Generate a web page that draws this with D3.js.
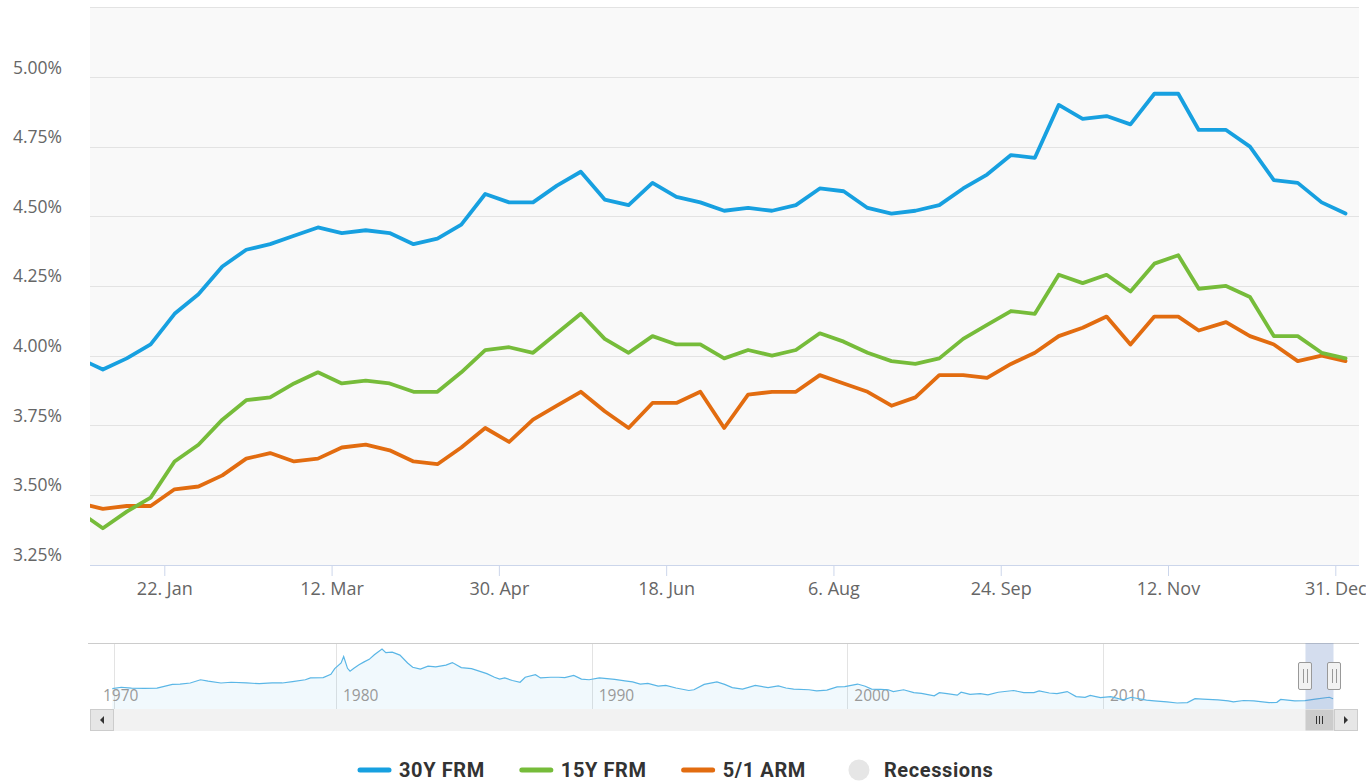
<!DOCTYPE html>
<html lang="en">
<head>
<meta charset="UTF-8">
<title>Mortgage Rates 2018</title>
<style>
    body { margin: 0; background: #ffffff; }
    svg text { font-family: "Open Sans", sans-serif; }
</style>
</head>
<body>
<div id="chart"></div>
<script src="https://cdn.jsdelivr.net/npm/d3@7"></script>
<script>
// weekly survey dates (first one sits just left of the visible range)
const weekDates = ["2017-12-28", "2018-01-04", "2018-01-11", "2018-01-18", "2018-01-25", "2018-02-01",
    "2018-02-08", "2018-02-15", "2018-02-22", "2018-03-01", "2018-03-08", "2018-03-15", "2018-03-22",
    "2018-03-29", "2018-04-05", "2018-04-12", "2018-04-19", "2018-04-26", "2018-05-03", "2018-05-10",
    "2018-05-17", "2018-05-24", "2018-05-31", "2018-06-07", "2018-06-14", "2018-06-21", "2018-06-28",
    "2018-07-05", "2018-07-12", "2018-07-19", "2018-07-26", "2018-08-02", "2018-08-09", "2018-08-16",
    "2018-08-23", "2018-08-30", "2018-09-06", "2018-09-13", "2018-09-20", "2018-09-27", "2018-10-04",
    "2018-10-11", "2018-10-18", "2018-10-25", "2018-11-01", "2018-11-08", "2018-11-15", "2018-11-21",
    "2018-11-29", "2018-12-06", "2018-12-13", "2018-12-20", "2018-12-27", "2019-01-03"];

const frm30 = [3.99, 3.95, 3.99, 4.04, 4.15, 4.22, 4.32, 4.38, 4.40, 4.43, 4.46, 4.44, 4.45, 4.44, 4.40,
    4.42, 4.47, 4.58, 4.55, 4.55, 4.61, 4.66, 4.56, 4.54, 4.62, 4.57, 4.55, 4.52, 4.53, 4.52, 4.54, 4.60,
    4.59, 4.53, 4.51, 4.52, 4.54, 4.60, 4.65, 4.72, 4.71, 4.90, 4.85, 4.86, 4.83, 4.94, 4.94, 4.81, 4.81,
    4.75, 4.63, 4.62, 4.55, 4.51];

const frm15 = [3.44, 3.38, 3.44, 3.49, 3.62, 3.68, 3.77, 3.84, 3.85, 3.90, 3.94, 3.90, 3.91, 3.90, 3.87,
    3.87, 3.94, 4.02, 4.03, 4.01, 4.08, 4.15, 4.06, 4.01, 4.07, 4.04, 4.04, 3.99, 4.02, 4.00, 4.02, 4.08,
    4.05, 4.01, 3.98, 3.97, 3.99, 4.06, 4.11, 4.16, 4.15, 4.29, 4.26, 4.29, 4.23, 4.33, 4.36, 4.24, 4.25,
    4.21, 4.07, 4.07, 4.01, 3.99];

const arm51 = [3.47, 3.45, 3.46, 3.46, 3.52, 3.53, 3.57, 3.63, 3.65, 3.62, 3.63, 3.67, 3.68, 3.66, 3.62,
    3.61, 3.67, 3.74, 3.69, 3.77, 3.82, 3.87, 3.80, 3.74, 3.83, 3.83, 3.87, 3.74, 3.86, 3.87, 3.87, 3.93,
    3.90, 3.87, 3.82, 3.85, 3.93, 3.93, 3.92, 3.97, 4.01, 4.07, 4.10, 4.14, 4.04, 4.14, 4.14, 4.09, 4.12,
    4.07, 4.04, 3.98, 4.00, 3.98];

const seriesNames = ["30Y FRM", "15Y FRM", "5/1 ARM"];
const seriesColors = ["#17a0e0", "#76bc3a", "#e26c10"];

const yTickValues = [3.25, 3.50, 3.75, 4.00, 4.25, 4.50, 4.75, 5.00];
const xTickDates = ["2018-01-22", "2018-03-12", "2018-04-30", "2018-06-18", "2018-08-06",
    "2018-09-24", "2018-11-12", "2018-12-31"];

// navigator: 30Y FRM history (decimal year, rate)
const navYears = [1971.25, 1971.6, 1972.0, 1972.5, 1973.0, 1973.6, 1973.9, 1974.3, 1974.7, 1975.0,
    1975.5, 1975.9, 1976.5, 1977.0, 1977.5, 1977.9, 1978.3, 1978.8, 1979.0, 1979.5, 1979.8, 1979.95,
    1980.2, 1980.3, 1980.45, 1980.55, 1980.7, 1980.9, 1981.1, 1981.3, 1981.5, 1981.8, 1981.95, 1982.2,
    1982.5, 1982.8, 1983.0, 1983.3, 1983.6, 1983.9, 1984.3, 1984.55, 1984.9, 1985.3, 1985.6, 1985.9,
    1986.2, 1986.4, 1986.6, 1986.9, 1987.2, 1987.4, 1987.8, 1988.0, 1988.4, 1988.7, 1988.95, 1989.3,
    1989.6, 1989.9, 1990.3, 1990.6, 1990.9, 1991.3, 1991.6, 1991.9, 1992.2, 1992.6, 1992.9, 1993.3,
    1993.8, 1994.0, 1994.4, 1994.9, 1995.2, 1995.5, 1995.9, 1996.4, 1996.9, 1997.3, 1997.6, 1997.9,
    1998.5, 1998.8, 1999.2, 1999.6, 1999.9, 2000.4, 2000.7, 2000.95, 2001.3, 2001.6, 2001.8, 2002.2,
    2002.6, 2002.9, 2003.4, 2003.6, 2003.9, 2004.3, 2004.45, 2004.8, 2005.2, 2005.5, 2005.9, 2006.5,
    2006.9, 2007.3, 2007.5, 2007.9, 2008.2, 2008.6, 2008.95, 2009.3, 2009.5, 2009.9, 2010.3, 2010.8,
    2011.1, 2011.7, 2012.0, 2012.5, 2012.9, 2013.3, 2013.6, 2013.9, 2014.5, 2014.9, 2015.1, 2015.5,
    2015.9, 2016.5, 2016.8, 2016.95, 2017.5, 2017.9, 2018.3, 2018.85, 2019.0];
const navRates = [7.33, 7.7, 7.45, 7.40, 7.45, 8.5, 8.6, 8.9, 9.8, 9.4,
    8.9, 9.1, 8.9, 8.7, 8.9, 8.9, 9.3, 9.8, 10.3, 10.4, 11.3, 12.9,
    14.5, 16.3, 13.0, 12.2, 13.0, 14.0, 14.8, 15.5, 16.8, 18.4, 17.4, 17.5,
    16.7, 14.5, 13.3, 12.8, 13.6, 13.4, 13.9, 14.6, 13.2, 12.9, 12.2, 11.5,
    10.5, 10.0, 10.3, 9.6, 9.1, 10.5, 11.2, 10.3, 10.5, 10.5, 10.4, 11.0,
    10.0, 9.8, 10.3, 10.1, 9.9, 9.5, 9.2, 8.6, 8.8, 8.0, 8.2, 7.5,
    6.8, 7.0, 8.5, 9.2, 8.5, 7.6, 7.2, 8.2, 7.6, 8.1, 7.5, 7.2,
    7.0, 6.7, 6.9, 7.8, 7.9, 8.6, 8.0, 7.2, 7.1, 7.0, 6.5, 7.0,
    6.2, 6.0, 5.3, 6.2, 5.9, 5.5, 6.3, 5.7, 5.9, 5.6, 6.3, 6.8,
    6.2, 6.2, 6.7, 6.1, 5.9, 6.5, 5.1, 4.9, 5.4, 4.8, 5.1, 4.2,
    4.9, 4.1, 3.9, 3.6, 3.3, 3.4, 4.5, 4.4, 4.2, 3.9, 3.6, 4.0,
    3.9, 3.4, 3.5, 4.3, 3.9, 3.95, 4.4, 4.9, 4.5];
const navTickYears = [1970, 1980, 1990, 2000, 2010];

const legendItems = ["30Y FRM", "15Y FRM", "5/1 ARM", "Recessions"];

const width = 1366, height = 781;
const plot = { left: 90, right: 1359, top: 7, bottom: 565 };
const nav = { top: 643, bottom: 709, scrollBottom: 731 };

const svg = d3.select("#chart").append("svg")
    .attr("width", width)
    .attr("height", height);

const parse = d3.utcParse("%Y-%m-%d");

var x = d3.scaleUtc()
    .domain([parse("2018-01-22"), parse("2018-12-31")])
    .range([164.3, 1335.3]);

var y = d3.scaleLinear()
    .domain([3.25, 5.25])
    .range([564.5, 7.4]);

// plot background
svg.append("rect")
    .attr("x", plot.left).attr("y", plot.top)
    .attr("width", plot.right - plot.left).attr("height", plot.bottom - plot.top)
    .attr("fill", "#f9f9f9");

svg.append("clipPath").attr("id", "plotclip")
    .append("rect")
    .attr("x", plot.left).attr("y", 0)
    .attr("width", plot.right - plot.left).attr("height", plot.bottom);

// horizontal grid
svg.append("g")
    .selectAll("line")
    .data(yTickValues.slice(1).concat([5.25]))
    .enter()
    .append("line")
    .attr("x1", plot.left).attr("x2", plot.right)
    .attr("y1", d => Math.round(y(d)) + 0.5)
    .attr("y2", d => Math.round(y(d)) + 0.5)
    .attr("stroke", "#e3e3e3");

// y labels sit just above their grid lines
svg.append("g")
    .selectAll("text")
    .data(yTickValues)
    .enter()
    .append("text")
    .attr("x", 62)
    .attr("y", d => y(d) - 3.5)
    .attr("text-anchor", "end")
    .style("font-size", "17.5px")
    .attr("fill", "#666666")
    .text(d => d.toFixed(2) + "%");

// x axis
var xAxis = d3.axisBottom(x)
    .tickValues(xTickDates.map(parse))
    .tickSize(11)
    .tickPadding(3)
    .tickFormat(d3.utcFormat("%-d. %b"));

var gx = svg.append("g")
    .attr("transform", "translate(0," + plot.bottom + ")")
    .call(xAxis);
gx.select(".domain").remove();
gx.selectAll(".tick line").attr("stroke", "#ccd6eb");
gx.selectAll(".tick text")
    .attr("fill", "#666666")
    .style("font-size", "18px")
    .style("font-family", "Open Sans, sans-serif")
    .attr("dy", "0.9em");
svg.append("line")
    .attr("x1", plot.left).attr("x2", plot.right)
    .attr("y1", plot.bottom + 0.5).attr("y2", plot.bottom + 0.5)
    .attr("stroke", "#ccd6eb");

// series lines
const allSeries = [frm30, frm15, arm51];
var line = d3.line()
    .x(d => x(d.date))
    .y(d => y(d.value));

svg.append("g")
    .attr("clip-path", "url(#plotclip)")
    .selectAll("path")
    .data(allSeries.slice().reverse().map((vals, i) => ({
        color: seriesColors[allSeries.length - 1 - i],
        points: vals.map((v, j) => ({ date: parse(weekDates[j]), value: v }))
    })))
    .enter()
    .append("path")
    .attr("d", d => line(d.points))
    .attr("fill", "none")
    .attr("stroke", d => d.color)
    .attr("stroke-width", 3.8)
    .attr("stroke-linejoin", "round")
    .attr("stroke-linecap", "round");

// ---------- navigator ----------
var navX = d3.scaleLinear()
    .domain([1980, 2010])
    .range([336, 1103]);

var navY = d3.scaleLinear()
    .domain([3.3, 18.4])
    .range([703, 649]);

function decYear(date) {
    var yr = date.getUTCFullYear();
    var start = Date.UTC(yr, 0, 1), end = Date.UTC(yr + 1, 0, 1);
    return yr + (date - start) / (end - start);
}

// vertical grid lines + labels
svg.append("g")
    .selectAll("line")
    .data(navTickYears.filter(d => navX(d) > plot.left))
    .enter()
    .append("line")
    .attr("x1", d => Math.round(navX(d)) + 0.5)
    .attr("x2", d => Math.round(navX(d)) + 0.5)
    .attr("y1", nav.top).attr("y2", nav.bottom)
    .attr("stroke", "#e3e3e3");

svg.append("line")
    .attr("x1", Math.round(navX(navYears[0])) + 2.5)
    .attr("x2", Math.round(navX(navYears[0])) + 2.5)
    .attr("y1", nav.top).attr("y2", nav.bottom)
    .attr("stroke", "#e3e3e3");

var navArea = d3.area()
    .x((d, i) => navX(navYears[i]))
    .y0(nav.bottom)
    .y1(d => navY(d));

var navLine = d3.line()
    .x((d, i) => navX(navYears[i]))
    .y(d => navY(d));

svg.append("path")
    .attr("d", navArea(navRates))
    .attr("fill", seriesColors[0])
    .attr("fill-opacity", 0.06);

svg.append("g")
    .selectAll("text")
    .data(navTickYears)
    .enter()
    .append("text")
    .attr("x", d => Math.max(navX(d) + 7, plot.left + 13))
    .attr("y", 701)
    .attr("fill", "#999999")
    .style("font-size", "15.5px")
    .text(d => d);

svg.append("path")
    .attr("d", navLine(navRates))
    .attr("fill", "none")
    .attr("stroke", "#5ab6e6")
    .attr("stroke-width", 1.2);

svg.append("line")
    .attr("x1", plot.left - 2).attr("x2", plot.right)
    .attr("y1", nav.top + 0.5).attr("y2", nav.top + 0.5)
    .attr("stroke", "#cccccc");

// selected range mask
var maskLeft = navX(decYear(x.invert(plot.left))) - 2;
var maskRight = navX(decYear(x.invert(plot.right)));

svg.append("rect")
    .attr("x", maskLeft).attr("y", nav.top)
    .attr("width", maskRight - maskLeft).attr("height", nav.bottom - nav.top)
    .attr("fill", "rgba(102,133,194,0.28)");

// scrollbar
svg.append("rect")
    .attr("x", plot.left).attr("y", nav.bottom)
    .attr("width", plot.right - plot.left - 1).attr("height", nav.scrollBottom - nav.bottom)
    .attr("fill", "#f2f2f2");

svg.append("rect")
    .attr("x", maskLeft).attr("y", nav.bottom + 0.5)
    .attr("width", maskRight - maskLeft).attr("height", nav.scrollBottom - nav.bottom - 1)
    .attr("fill", "#cccccc");

[-3, 0, 3].forEach(function (dx) {
    var cx = Math.round((maskLeft + maskRight) / 2) + 0.5 + dx;
    svg.append("line")
        .attr("x1", cx).attr("x2", cx)
        .attr("y1", 716).attr("y2", 724)
        .attr("stroke", "#333333");
});

var buttons = [
    { x: plot.left + 0.5, dir: -1 },
    { x: plot.right - 24.5, dir: 1 }
];
buttons.forEach(function (b) {
    svg.append("rect")
        .attr("x", b.x).attr("y", nav.bottom + 0.5)
        .attr("width", 23).attr("height", nav.scrollBottom - nav.bottom - 1)
        .attr("fill", "#e6e6e6")
        .attr("stroke", "#cccccc");
    var cx = b.x + 11.5, cy = (nav.bottom + nav.scrollBottom) / 2;
    svg.append("path")
        .attr("d", "M" + (cx + 2 * b.dir) + "," + cy +
            "L" + (cx - 2 * b.dir) + "," + (cy - 4) +
            "L" + (cx - 2 * b.dir) + "," + (cy + 4) + "Z")
        .attr("fill", "#333333");
});

// handles
[maskLeft, maskRight].forEach(function (hx) {
    var hcy = (nav.top + nav.bottom) / 2;
    svg.append("rect")
        .attr("x", Math.round(hx) - 6.5).attr("y", hcy - 13.5)
        .attr("width", 13).attr("height", 27)
        .attr("rx", 1.5)
        .attr("fill", "#f2f2f2")
        .attr("stroke", "#999999");
    [-2, 2].forEach(function (dx) {
        svg.append("line")
            .attr("x1", Math.round(hx) + dx + 0.5).attr("x2", Math.round(hx) + dx + 0.5)
            .attr("y1", hcy - 7).attr("y2", hcy + 7)
            .attr("stroke", "#999999");
    });
});

// ---------- legend ----------
var legend = svg.append("g");
var lx = 357;
var legendY = 770;
legendItems.forEach(function (name, i) {
    var g = legend.append("g");
    var isLine = i < seriesColors.length;
    if (isLine) {
        g.append("line")
            .attr("x1", lx + 3).attr("x2", lx + 32)
            .attr("y1", legendY).attr("y2", legendY)
            .attr("stroke", seriesColors[i])
            .attr("stroke-width", 5)
            .attr("stroke-linecap", "round");
    } else {
        g.append("circle")
            .attr("cx", lx + 19).attr("cy", legendY)
            .attr("r", 10.5)
            .attr("fill", "#e6e6e6");
    }
    var t = g.append("text")
        .attr("x", lx + (isLine ? 42 : 44))
        .attr("y", legendY + 7)
        .attr("fill", "#333333")
        .style("font-family", "Roboto, sans-serif")
        .style("font-weight", "700")
        .style("font-size", "20px")
        .style("letter-spacing", "0.6px")
        .text(name);
    lx = lx + (isLine ? 42 : 44) + t.node().getComputedTextLength() + 34;
});
</script>
</body>
</html>
